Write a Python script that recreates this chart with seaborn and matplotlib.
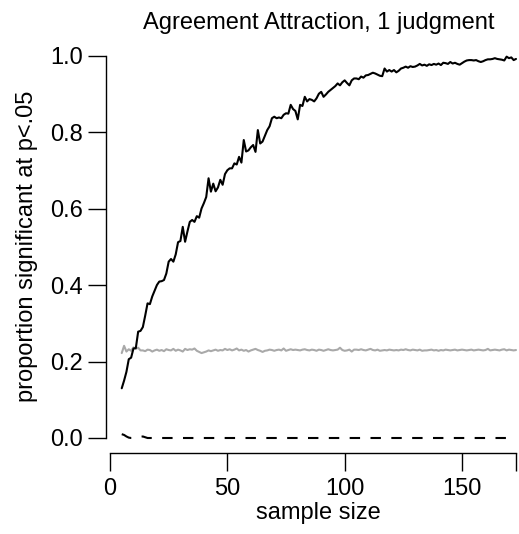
import numpy as np
import pandas as pd
import matplotlib
matplotlib.use("Agg")
import matplotlib.pyplot as plt
import seaborn as sns

# Simulated power curves: proportion of runs significant at p < .05, by sample size
sample_size = list(range(5, 174))

power_effect = [
    0.130, 0.150, 0.173, 0.206, 0.210, 0.234, 0.235, 0.278, 0.280, 0.290,
    0.320, 0.352, 0.350, 0.370, 0.385, 0.400, 0.409, 0.410, 0.413, 0.430,
    0.461, 0.468, 0.461, 0.480, 0.512, 0.515, 0.552, 0.513, 0.540, 0.565,
    0.570, 0.565, 0.580, 0.576, 0.600, 0.614, 0.630, 0.679, 0.644, 0.665,
    0.645, 0.655, 0.675, 0.662, 0.690, 0.700, 0.705, 0.705, 0.718, 0.715,
    0.735, 0.720, 0.779, 0.749, 0.752, 0.760, 0.766, 0.748, 0.805, 0.770,
    0.775, 0.790, 0.805, 0.815, 0.836, 0.840, 0.836, 0.838, 0.836, 0.845,
    0.849, 0.848, 0.871, 0.860, 0.855, 0.833, 0.871, 0.868, 0.892, 0.880,
    0.886, 0.884, 0.880, 0.888, 0.900, 0.905, 0.892, 0.898, 0.905, 0.910,
    0.915, 0.920, 0.927, 0.922, 0.930, 0.935, 0.928, 0.922, 0.935, 0.940,
    0.940, 0.938, 0.945, 0.942, 0.948, 0.949, 0.952, 0.955, 0.953, 0.950,
    0.947, 0.946, 0.966, 0.958, 0.962, 0.958, 0.962, 0.956, 0.960, 0.966,
    0.968, 0.971, 0.968, 0.972, 0.970, 0.971, 0.974, 0.978, 0.974, 0.976,
    0.973, 0.977, 0.975, 0.978, 0.976, 0.979, 0.975, 0.981, 0.980, 0.978,
    0.983, 0.979, 0.981, 0.978, 0.976, 0.980, 0.984, 0.987, 0.988, 0.988,
    0.987, 0.988, 0.985, 0.983, 0.985, 0.988, 0.990, 0.990, 0.991, 0.993,
    0.991, 0.990, 0.989, 0.987, 0.997, 0.993, 0.995, 0.988, 0.991,
]

power_typeM = [
    0.222, 0.241, 0.226, 0.232, 0.228, 0.237, 0.233, 0.236, 0.229, 0.229,
    0.227, 0.231, 0.230, 0.226, 0.229, 0.231, 0.228, 0.230, 0.227, 0.232,
    0.230, 0.229, 0.233, 0.228, 0.231, 0.229, 0.226, 0.233, 0.230, 0.232,
    0.231, 0.234, 0.228, 0.225, 0.222, 0.224, 0.226, 0.229, 0.227, 0.229,
    0.231, 0.228, 0.230, 0.229, 0.233, 0.230, 0.232, 0.229, 0.231, 0.234,
    0.229, 0.231, 0.228, 0.230, 0.226, 0.229, 0.231, 0.233, 0.230, 0.228,
    0.225, 0.228, 0.229, 0.231, 0.230, 0.228, 0.230, 0.231, 0.229, 0.234,
    0.228, 0.230, 0.232, 0.230, 0.231, 0.230, 0.229, 0.231, 0.232, 0.230,
    0.229, 0.231, 0.230, 0.228, 0.231, 0.230, 0.228, 0.230, 0.232, 0.230,
    0.229, 0.230, 0.231, 0.236, 0.230, 0.228, 0.229, 0.231, 0.226, 0.231,
    0.231, 0.230, 0.232, 0.230, 0.229, 0.231, 0.233, 0.230, 0.229, 0.231,
    0.228, 0.229, 0.230, 0.229, 0.231, 0.230, 0.229, 0.230, 0.229, 0.231,
    0.230, 0.232, 0.230, 0.229, 0.231, 0.230, 0.229, 0.231, 0.228, 0.229,
    0.229, 0.230, 0.231, 0.229, 0.230, 0.228, 0.230, 0.229, 0.231, 0.230,
    0.229, 0.230, 0.231, 0.229, 0.230, 0.231, 0.230, 0.229, 0.230, 0.231,
    0.229, 0.230, 0.231, 0.230, 0.229, 0.230, 0.233, 0.229, 0.230, 0.231,
    0.230, 0.229, 0.231, 0.232, 0.229, 0.231, 0.230, 0.229, 0.230,
]

power_null = [0.010, 0.008, 0.004, 0.001, 0.000, 0.000, 0.001, 0.002, 0.003, 0.004,
              0.002, 0.000] + [0.0] * (169 - 12)

xticks = [0, 50, 100, 150]
yticks = [0.0, 0.2, 0.4, 0.6, 0.8, 1.0]

df = pd.DataFrame({"n": sample_size, "effect": power_effect,
                   "typeM": power_typeM, "null": power_null})

sns.set_theme(style="ticks")
plt.rcParams["font.family"] = ["Liberation Sans", "DejaVu Sans"]
plt.rcParams["text.color"] = "black"
plt.rcParams["axes.labelcolor"] = "black"

FS = 17
W, H = 519, 534
fig = plt.figure(figsize=(W / 100, H / 100), dpi=100)
# R-style plot region: 4% padding around the data range
x0, x1 = -1.72, 179.72
y0, y1 = -0.04, 1.04
px_per_x = 406.0 / 173.0
left_px = 110 + x0 * px_per_x
width_px = (x1 - x0) * px_per_x
bottom_px = 453.3
height_px = (y1 - y0) * 382.5
ax = fig.add_axes([left_px / W, (H - bottom_px) / H, width_px / W, height_px / H])

sns.lineplot(data=df, x="n", y="typeM", color="#a9a9a9", lw=1.5, ax=ax)
sns.lineplot(data=df, x="n", y="effect", color="black", lw=1.5, ax=ax)
sns.lineplot(data=df, x="n", y="null", color="black", lw=1.5, ax=ax)
ax.lines[-1].set_dashes((5, 5))

ax.set_xlim(x0, x1)
ax.set_ylim(y0, y1)
ax.set_xticks(xticks + [173])
ax.set_xticklabels([str(t) for t in xticks] + [""])
ax.set_yticks(yticks)
ax.set_yticklabels([f"{t:.1f}" for t in yticks])

for s in ["top", "right"]:
    ax.spines[s].set_visible(False)
ax.spines["bottom"].set_bounds(0, 173)
ax.spines["left"].set_bounds(0, 1)
for s in ["bottom", "left"]:
    ax.spines[s].set_linewidth(1.0)
    ax.spines[s].set_color("black")

ax.tick_params(axis="both", direction="out", length=13, width=1.0,
               colors="black", labelsize=FS)
ax.tick_params(axis="x", pad=5)
ax.tick_params(axis="y", pad=3.5)

ax.set_xlabel("sample size", fontsize=FS, labelpad=1, color="black")
ax.set_ylabel("proportion significant at p<.05", fontsize=FS, labelpad=9, color="black")
ax.set_title("Agreement Attraction, 1 judgment", fontsize=FS, pad=8, color="black")

fig.savefig("out.png", dpi=100)
